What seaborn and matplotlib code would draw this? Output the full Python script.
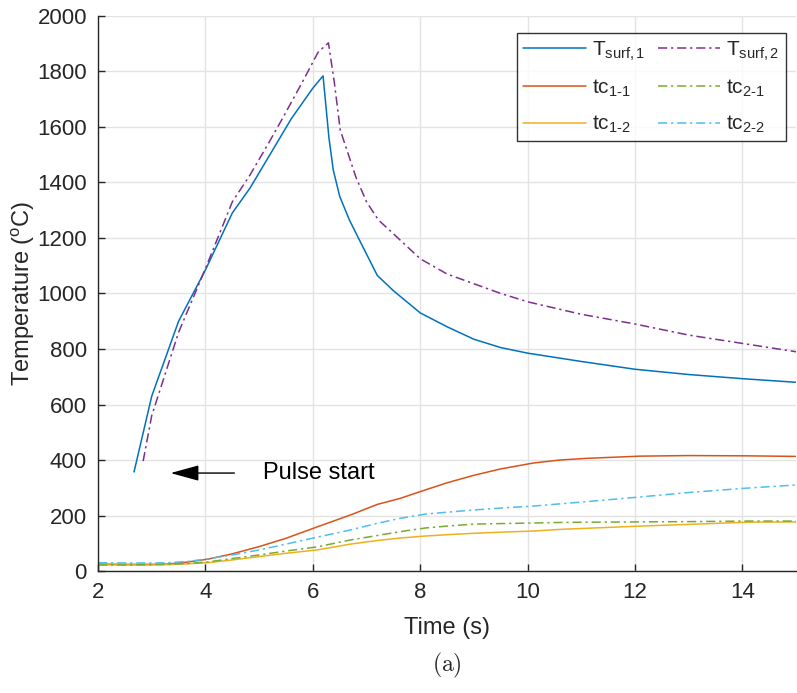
import numpy as np
import pandas as pd
import seaborn as sns
import matplotlib.pyplot as plt

# surface temperatures
t_surf1 = [2.67, 3.0, 3.5, 4.0, 4.5, 4.83, 5.2, 5.6, 6.0, 6.19, 6.3, 6.38, 6.5, 6.68, 6.9, 7.2, 7.5, 8.0, 8.5, 9.0, 9.5, 10.0, 11.0, 12.0, 13.0, 14.0, 15.0]
T_surf1 = [357, 630, 900, 1085, 1290, 1380, 1500, 1630, 1740, 1784, 1560, 1445, 1350, 1265, 1180, 1065, 1010, 930, 880, 835, 805, 785, 755, 727, 708, 693, 680]

t_surf2 = [2.84, 3.0, 3.5, 4.0, 4.5, 4.83, 5.2, 5.45, 5.8, 6.1, 6.29, 6.4, 6.51, 6.8, 7.0, 7.22, 7.5, 8.0, 8.5, 9.0, 9.5, 10.0, 11.0, 12.0, 13.0, 14.0, 15.0]
T_surf2 = [396, 560, 860, 1090, 1330, 1427, 1550, 1636, 1760, 1870, 1903, 1760, 1589, 1420, 1330, 1265, 1215, 1125, 1070, 1035, 1000, 970, 925, 890, 850, 820, 790]

# thermocouples
t_tc = [2.0, 2.5, 3.0, 3.28, 3.65, 4.05, 4.5, 5.0, 5.5, 6.08, 6.7, 7.2, 7.63, 8.09, 8.5, 9.0, 9.5, 10.1, 10.6, 11.1, 12.1, 13.0, 14.1, 15.0]
tc_11 = [25, 24, 24, 25, 32, 43, 62, 88, 118, 159, 202, 240, 262, 292, 318, 345, 368, 389, 400, 406, 414, 416, 415, 413]
tc_12 = [22, 22, 22, 23, 26, 30, 40, 52, 64, 76, 97, 110, 119, 126, 131, 136, 140, 144, 150, 154, 162, 168, 176, 177]
tc_21 = [22, 22, 23, 24, 27, 33, 45, 58, 72, 87, 112, 128, 142, 155, 162, 169, 171, 173, 175, 176, 177, 178, 180, 180]
tc_22 = [30, 29, 29, 30, 34, 44, 58, 76, 97, 122, 148, 172, 190, 205, 212, 220, 227, 234, 242, 250, 267, 283, 299, 310]

sns.set_theme(style="whitegrid")
plt.rcParams['font.family'] = ['Liberation Sans', 'DejaVu Sans']
plt.rcParams['mathtext.fontset'] = 'custom'
plt.rcParams['mathtext.rm'] = 'Liberation Sans'
plt.rcParams['mathtext.it'] = 'Liberation Sans'

fig = plt.figure(figsize=(7.97, 6.93), dpi=100)
ax = fig.add_axes([0.123, 0.176, 0.876, 0.801])

dd = (6, 2.5, 1.5, 2.5)
series = [
    (t_surf1, T_surf1, r"T$_{\mathregular{surf,1}}$", "#0072BD", None),
    (t_tc, tc_11, r"tc$_{\mathregular{1\text{-}1}}$", "#D95319", None),
    (t_tc, tc_12, r"tc$_{\mathregular{1\text{-}2}}$", "#EDB120", None),
    (t_surf2, T_surf2, r"T$_{\mathregular{surf,2}}$", "#7E2F8E", dd),
    (t_tc, tc_21, r"tc$_{\mathregular{2\text{-}1}}$", "#77AC30", dd),
    (t_tc, tc_22, r"tc$_{\mathregular{2\text{-}2}}$", "#4DBEEE", dd),
]
for x, y, lab, col, dash in series:
    sns.lineplot(x=x, y=y, ax=ax, color=col, lw=1.1, label=lab)
    if dash is not None:
        ax.lines[-1].set_dashes(dash)

ax.set_xlim(2, 15)
ax.set_ylim(0, 2000)
ax.set_xticks(range(2, 15, 2))
ax.set_yticks(range(0, 2001, 200))
ax.grid(True, color="#e3e3e3", lw=1)
for s in ["top", "right"]:
    ax.spines[s].set_visible(False)
for s in ["left", "bottom"]:
    ax.spines[s].set_color("#262626")
    ax.spines[s].set_linewidth(1)
ax.tick_params(direction="in", length=5, width=1, color="#262626",
               labelsize=16, labelcolor="#262626", left=True, bottom=True, pad=8)
ax.set_xlabel("Time (s)", fontsize=17, color="#262626", labelpad=10)
ax.set_ylabel(r"Temperature ($^{\mathregular{o}}$C)", fontsize=17, color="#262626", labelpad=0)

ax.annotate("", xy=(3.3, 353), xytext=(4.59, 353),
            arrowprops=dict(arrowstyle="-|>,head_length=0.8,head_width=0.22",
                            color="black", lw=1, mutation_scale=22))
ax.text(5.07, 355, "Pulse start", fontsize=17, va="center", ha="left", color="black")

handles, labels = ax.get_legend_handles_labels()
leg = ax.legend(handles, labels, ncol=2, loc="upper right", bbox_to_anchor=(0.985, 0.969),
                fontsize=15, frameon=True, fancybox=False, edgecolor="black",
                handlelength=3.0, columnspacing=0.6, labelspacing=0.72,
                borderpad=0.3, handletextpad=0.3, borderaxespad=0)
leg.get_frame().set_linewidth(1)

fig.text(0.561, 0.04, r"$(\mathrm{a})$", fontsize=17, ha="center", va="center",
         math_fontfamily="cm")

fig.savefig("out.png", dpi=100)
